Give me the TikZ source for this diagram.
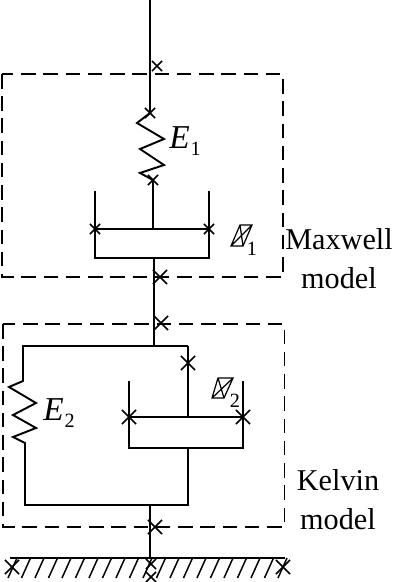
\documentclass[tikz,border=0pt]{standalone}
\usepackage{fontspec}
\setmainfont{Liberation Serif}
\usetikzlibrary{shapes.misc,positioning}
\newcommand{\lowsub}[1]{\kern0.5pt\raisebox{-4.5pt}{\fontsize{11.5}{13}\selectfont\upshape #1}}
\tikzset{
wire/.style={line width=1.1pt,line join=miter},
dashbox/.style={line width=0.9pt,dash pattern=on 0.29cm off 0.155cm},
xmark/.style={cross out,draw,line width=0.9pt,inner sep=0pt,minimum size=0.17cm},
xbig/.style={xmark,minimum size=0.25cm},
lbl/.style={inner sep=0pt,font=\fontsize{17.2}{22.2}\selectfont,align=center},
sym/.style={inner sep=0pt,anchor=base west,font=\fontsize{19}{22}\selectfont\itshape},
sbs/.style={inner sep=0pt,font=\fontsize{11.5}{13}\selectfont}
}
\begin{document}
\begin{tikzpicture}[x=0.02cm,y=-0.02cm]
\useasboundingbox (0,0) rectangle (403,582);
\draw[dashbox] (2,74) rectangle (283,277);
\draw[dashbox] (3,324) rectangle (284.5,527);
\coordinate (top) at (150,0);
\node[xmark] (x1) at (157,66) {};
\node[xmark] (s1a) at (150,113) {};
\node[xmark] (s1b) at (153,180) {};
\coordinate (p1) at (153,229);
\node[xmark] (p1l) at (95,229) {};
\node[xmark] (p1r) at (209,229) {};
\coordinate (c1l) at (95,191);\coordinate (c1r) at (209,191);
\coordinate (b1) at (154,258);
\node[xbig] (x2) at (160,277) {};
\node[xbig] (x3) at (161,323) {};
\coordinate (j1) at (154,346);
\coordinate (kl) at (23,346);\coordinate (kr) at (188,346);
\node[xbig] (x4) at (188,363) {};
\coordinate (p2) at (188,417);
\node[xbig] (p2l) at (129,417) {};
\node[xbig] (p2r) at (243,417) {};
\coordinate (c2l) at (129,381);\coordinate (c2r) at (243,381);
\coordinate (b2) at (188,448);
\coordinate (bl) at (25,505);\coordinate (br) at (188,505);
\coordinate (j2) at (150,505);
\node[xbig] (x5) at (155,527) {};
\coordinate (gnd) at (150,558);
\coordinate (gl) at (10,558);\coordinate (gr) at (285,558);
\node[xbig] (g1) at (12,567) {};
\node[xbig] (g2) at (283,567) {};
\node[xmark] (g3) at (151,564) {};
\node[xmark] (g4) at (151,577) {};
\draw[wire] (top)--(s1a.center)--(137,123)--(164,139)--(140,149)--(164,165)--(140,173)--(s1b.center)--(p1);
\draw[wire] (p1l.center)--(p1r.center);
\draw[wire] (c1l)--(p1l.center)--(95,258)--(209,258)--(p1r.center)--(c1r);
\draw[wire] (b1)--(j1);
\draw[wire] (kr)--(kl)--(23,381)--(9,387)--(36,403)--(13,415)--(36,428)--(13,437)--(25,443)--(bl)--(br)--(b2);
\draw[wire] (kr)--(p2);
\draw[wire] (p2l.center)--(p2r.center);
\draw[wire] (c2l)--(p2l.center)--(129,448)--(243,448)--(p2r.center)--(c2r);
\draw[wire] (j2)--(gnd);
\draw[wire] (gl)--(gr);
\foreach \x in {17,30.5,...,287}{\draw[line width=0.85pt] (\x,558)--++(-9,20);}
\draw[line width=0.7pt] (231,246)--(240,225)--(252,225)--(243,246)--cycle (231,246)--(252,225) (240,225)--(243,246);
\draw[line width=0.7pt] (212,398)--(218,378)--(233,378)--(224,398)--cycle (212,398)--(233,378) (218,378)--(224,398);
\node[sym] (e1) at (169,148) {E\lowsub{1}};
\node[sym] (e2) at (43,420) {E\lowsub{2}};
\node[sbs] (n1) at (252,249) {1};
\node[sbs] (n2) at (235,401) {2};
\node[lbl] (mx) at (339,259) {Maxwell\\model};
\node[lbl] (kv) at (338,500) {Kelvin\\model};
\end{tikzpicture}
\end{document}
